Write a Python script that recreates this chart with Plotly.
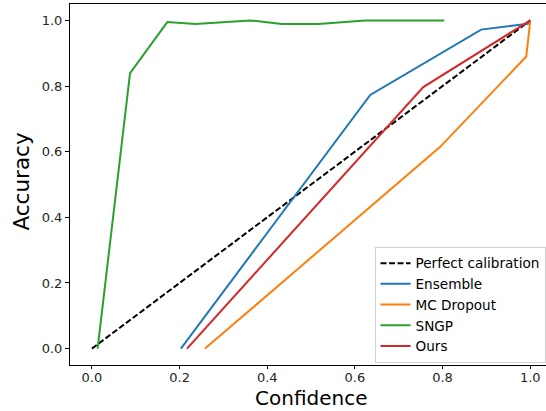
import plotly.graph_objects as go

# Data
perfect_x = [0.0, 1.0]
perfect_y = [0.0, 1.0]

ensemble_x = [0.203, 0.635, 0.888, 0.995, 1.0]
ensemble_y = [0.0, 0.773, 0.972, 0.990, 1.0]

mc_x = [0.258, 0.794, 0.991, 1.0]
mc_y = [0.0, 0.614, 0.890, 0.997]

sngp_x = [0.013, 0.087, 0.172, 0.236, 0.361, 0.433, 0.517, 0.623, 0.804]
sngp_y = [0.0, 0.839, 0.995, 0.989, 1.0, 0.989, 0.989, 1.0, 1.0]

ours_x = [0.217, 0.756, 1.0]
ours_y = [0.0, 0.797, 1.0]

x_ticks = [0.0, 0.2, 0.4, 0.6, 0.8, 1.0]
y_ticks = [0.0, 0.2, 0.4, 0.6, 0.8, 1.0]

FONT = "DejaVu Sans"

fig = go.Figure()
fig.add_trace(go.Scatter(x=perfect_x, y=perfect_y, mode="lines", name="Perfect calibration",
                         line=dict(color="black", width=2, dash="6px,2.5px")))
fig.add_trace(go.Scatter(x=ensemble_x, y=ensemble_y, mode="lines", name="Ensemble",
                         line=dict(color="#1f77b4", width=2)))
fig.add_trace(go.Scatter(x=mc_x, y=mc_y, mode="lines", name="MC Dropout",
                         line=dict(color="#ff7f0e", width=2)))
fig.add_trace(go.Scatter(x=sngp_x, y=sngp_y, mode="lines", name="SNGP",
                         line=dict(color="#2ca02c", width=2)))
fig.add_trace(go.Scatter(x=ours_x, y=ours_y, mode="lines", name="Ours",
                         line=dict(color="#d62728", width=2)))

fig.update_layout(
    width=546, height=411,
    margin=dict(l=70, r=0, t=4, b=46),
    plot_bgcolor="white", paper_bgcolor="white",
    font=dict(family=FONT, size=13, color="#262626"),
    legend=dict(
        x=0.999, y=0.006, xanchor="right", yanchor="bottom",
        bgcolor="rgba(255,255,255,0.8)", bordercolor="#d0d0d0", borderwidth=1,
        font=dict(family=FONT, size=13.6, color="black"),
        tracegroupgap=0, itemwidth=30,
    ),
    showlegend=True,
    annotations=[
        dict(text="Confidence", xref="paper", yref="paper", x=0.506, y=-0.1276,
             xanchor="center", yanchor="bottom", showarrow=False, borderpad=0,
             font=dict(family=FONT, size=20, color="black")),
        dict(text="Accuracy", xref="paper", yref="paper", x=-0.101, y=0.508,
             xanchor="center", yanchor="middle", textangle=-90, showarrow=False,
             font=dict(family=FONT, size=21.5, color="black")),
    ],
)
fig.update_xaxes(
    range=[-0.05, 1.036], tickvals=x_ticks, ticktext=[f"{v:.1f}" for v in x_ticks],
    showgrid=False, zeroline=False, showline=True, linecolor="black", linewidth=1,
    mirror=True, ticks="outside", ticklen=3, tickcolor="black", automargin=False,
    ticklabelstandoff=-3,
)
fig.update_yaxes(
    range=[-0.05, 1.05], tickvals=y_ticks, ticktext=[f"{v:.1f}" for v in y_ticks],
    showgrid=False, zeroline=False, showline=True, linecolor="black", linewidth=1,
    mirror=False, ticks="outside", ticklen=4, tickcolor="black", automargin=False,
)

fig.write_html("out.html")
